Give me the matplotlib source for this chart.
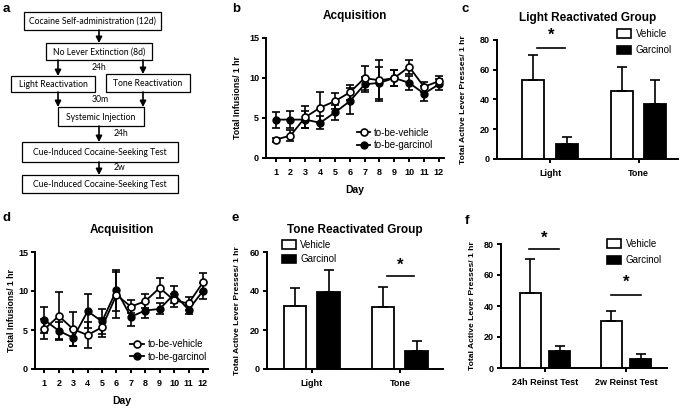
import matplotlib
matplotlib.use('Agg')
import matplotlib.pyplot as plt
from matplotlib.patches import Rectangle, Patch
from matplotlib.lines import Line2D
import numpy as np

plt.rcParams['font.family'] = ['Liberation Sans', 'DejaVu Sans']

# ---- data ----
days = list(range(1, 13))

# panel b: acquisition (light group)
b_vehicle = [2.3, 2.8, 5.1, 6.3, 7.1, 8.2, 10.0, 9.7, 10.0, 11.4, 8.9, 9.6]
b_vehicle_err = [0.25, 0.7, 1.4, 1.9, 1.0, 0.9, 1.5, 2.6, 1.0, 0.9, 0.6, 0.6]
b_garcinol = [4.8, 4.8, 4.8, 4.4, 5.7, 7.1, 9.2, 9.4, 10.0, 9.4, 8.05, 9.2]
b_garcinol_err = [1.0, 1.1, 1.1, 0.8, 0.9, 1.6, 0.9, 2.0, 1.0, 0.9, 0.9, 0.7]

# panel d: acquisition (tone group)
d_vehicle = [5.1, 6.8, 5.1, 4.35, 5.35, 9.5, 8.0, 8.7, 10.4, 8.8, 8.4, 11.1]
d_vehicle_err = [1.3, 3.1, 2.2, 1.7, 1.2, 3.0, 0.8, 0.9, 1.3, 0.8, 0.8, 1.2]
d_garcinol = [6.3, 4.9, 4.0, 7.4, 6.1, 10.1, 6.7, 7.5, 7.7, 9.6, 7.6, 10.0]
d_garcinol_err = [1.7, 1.1, 1.1, 2.2, 1.6, 2.6, 1.2, 1.0, 0.7, 1.1, 0.6, 1.0]

# panel c: light reactivated group
c_groups = ['Light', 'Tone']
c_vehicle = [53, 46]
c_vehicle_err = [17, 16]
c_garcinol = [10, 37]
c_garcinol_err = [4.5, 16]

# panel e: tone reactivated group
e_groups = ['Light', 'Tone']
e_vehicle = [32.5, 32]
e_vehicle_err = [8.8, 10]
e_garcinol = [39.5, 9]
e_garcinol_err = [11.5, 5.5]

# panel f: reinstatement tests
f_groups = ['24h Reinst Test', '2w Reinst Test']
f_vehicle = [48.5, 30.5]
f_vehicle_err = [22, 6.5]
f_garcinol = [11, 5.5]
f_garcinol_err = [3.5, 3.5]

W, H = 685, 408
fig = plt.figure(figsize=(W / 100, H / 100), dpi=100)


def px_axes(left, top, right, bottom):
    return fig.add_axes([left / W, 1 - bottom / H, (right - left) / W, (bottom - top) / H])


def style(ax):
    for s in ['top', 'right']:
        ax.spines[s].set_visible(False)
    for s in ['left', 'bottom']:
        ax.spines[s].set_linewidth(1.4)
    ax.tick_params(width=1.4, length=3, labelsize=6.5, pad=2)
    for lab in ax.get_xticklabels() + ax.get_yticklabels():
        lab.set_fontweight('bold')


def line_panel(ax, veh, veh_err, gar, gar_err, title, leg_x, ylab_x):
    ax.errorbar(days, gar, yerr=gar_err, fmt='-o', color='black', mfc='black',
                ms=5, lw=1.3, elinewidth=1.2, capsize=3, capthick=1.2, zorder=2)
    ax.errorbar(days, veh, yerr=veh_err, fmt='-o', color='black', mfc='white',
                mec='black', mew=1.2, ms=5, lw=1.3, elinewidth=1.2, capsize=3,
                capthick=1.2, zorder=3)
    ax.set_xlim(0.35, 12.35)
    ax.set_ylim(0, 15)
    ax.set_yticks([0, 5, 10, 15])
    ax.set_xticks(days)
    ax.set_xlabel('Day', fontsize=7.5, fontweight='bold', labelpad=6)
    ax.set_ylabel('Total Infusions/ 1 hr', fontsize=6.3, fontweight='bold')
    ax.yaxis.set_label_coords(ylab_x, 0.5)
    ax.set_title(title, fontsize=8.5, fontweight='bold', pad=14)
    style(ax)
    ax.tick_params(axis='x', pad=4)
    handles = [Line2D([], [], color='black', marker='o', mfc='white', mew=1.2, ms=5, lw=1.3),
               Line2D([], [], color='black', marker='o', mfc='black', ms=5, lw=1.3)]
    ax.legend(handles, ['to-be-vehicle', 'to-be-garcinol'], loc='center left',
              bbox_to_anchor=(leg_x, 0.158), frameon=False, fontsize=7,
              handlelength=1.4, handletextpad=0.4, labelspacing=0.25,
              borderpad=0, borderaxespad=0)


def bar_panel(ax, groups, veh, veh_err, gar, gar_err, ylim, yticks, off, bw, xlim,
              title, leg_anchor, leg_space, ylab_x):
    x = np.arange(len(groups))
    ax.bar(x - off, veh, bw, color='white', edgecolor='black', lw=1.3,
           yerr=[[0] * len(veh), veh_err], error_kw=dict(lw=1.2, capsize=3.5, capthick=1.2))
    ax.bar(x + off, gar, bw, color='black', edgecolor='black', lw=1.3,
           yerr=[[0] * len(gar), gar_err], error_kw=dict(lw=1.2, capsize=3.5, capthick=1.2))
    ax.set_xlim(*xlim)
    ax.set_ylim(*ylim)
    ax.set_yticks(yticks)
    ax.set_xticks(x)
    ax.set_xticklabels(groups)
    ax.set_ylabel('Total Active Lever Presses/ 1 hr', fontsize=6.1, fontweight='bold')
    ax.yaxis.set_label_coords(ylab_x, 0.5)
    if title:
        ax.set_title(title, fontsize=8.5, fontweight='bold', pad=14)
    style(ax)
    ax.tick_params(axis='x', pad=4)
    handles = [Patch(facecolor='white', edgecolor='black', lw=1.2),
               Patch(facecolor='black', edgecolor='black', lw=1.2)]
    ax.legend(handles, ['Vehicle', 'Garcinol'], loc='center left',
              bbox_to_anchor=leg_anchor, frameon=False, fontsize=7,
              handlelength=1.4, handleheight=1.0, handletextpad=0.5,
              labelspacing=leg_space, borderpad=0, borderaxespad=0)


def sig(ax, x0, x1, y, ystar):
    ax.plot([x0, x1], [y, y], color='black', lw=1.2, clip_on=False)
    ax.text((x0 + x1) / 2, ystar, '*', ha='center', va='center', fontsize=12,
            fontweight='bold', clip_on=False)


# ---- panel a: flowchart ----
axa = fig.add_axes([0, 0, 1, 1])
axa.set_xlim(0, W)
axa.set_ylim(H, 0)
axa.axis('off')
flow_font = ['Lato', 'DejaVu Sans']
boxes = [
    (24, 12, 161, 30, 'Cocaine Self-administration (12d)'),
    (46, 43, 152, 60, 'No Lever Extinction (8d)'),
    (11, 76, 95, 92, 'Light Reactivation'),
    (106, 74, 190, 92, 'Tone Reactivation'),
    (58, 107, 144, 126, 'Systemic Injection'),
    (22, 142, 178, 162, 'Cue-Induced Cocaine-Seeking Test'),
    (22, 175, 178, 193, 'Cue-Induced Cocaine-Seeking Test'),
]
for x0, y0, x1, y1, txt in boxes:
    axa.add_patch(Rectangle((x0, y0), x1 - x0, y1 - y0, fill=False, ec='black', lw=0.9))
    axa.text((x0 + x1) / 2, (y0 + y1) / 2 + 0.5, txt, ha='center', va='center',
             fontsize=6.2, family=flow_font)
arrows = [(99, 30, 43), (58, 60, 76), (143, 60, 74), (58, 92, 107), (143, 92, 107),
          (99, 126, 142), (99, 162, 175)]
for x, y0, y1 in arrows:
    axa.annotate('', xy=(x, y1), xytext=(x, y0),
                 arrowprops=dict(arrowstyle='-|>,head_length=0.35,head_width=0.18',
                                 color='black', lw=1.2, shrinkA=0, shrinkB=0))
for x, y, txt in [(99, 68, '24h'), (100, 100, '30m'), (114, 133, '24h'), (114, 168, '2w')]:
    axa.text(x, y, txt, ha='left' if x > 105 else 'center', va='center', fontsize=6.2,
             family=flow_font)
for x, y, lab in [(3, 9, 'a'), (232, 9, 'b'), (462, 9, 'c'), (3, 218, 'd'),
                  (232, 218, 'e'), (465, 221, 'f')]:
    axa.text(x, y, lab, ha='left', va='center', fontsize=9.5, fontweight='bold')

# ---- panel b ----
axb = px_axes(266, 38, 444, 158)
line_panel(axb, b_vehicle, b_vehicle_err, b_garcinol, b_garcinol_err, 'Acquisition', 0.51, -0.135)

# ---- panel d ----
axd = px_axes(35, 252, 208, 369)
line_panel(axd, d_vehicle, d_vehicle_err, d_garcinol, d_garcinol_err, 'Acquisition', 0.55, -0.11)

# ---- panel c ----
axc = px_axes(497, 40, 678, 159)
bar_panel(axc, c_groups, c_vehicle, c_vehicle_err, c_garcinol, c_garcinol_err,
          (0, 80), [0, 20, 40, 60, 80], 0.19, 0.25, (-0.6, 1.446),
          'Light Reactivated Group', (0.663, 0.983), 0.65, -0.166)
sig(axc, -0.15, 0.17, 74.6, 83)

# ---- panel e ----
axe = px_axes(267, 252, 443, 369)
bar_panel(axe, e_groups, e_vehicle, e_vehicle_err, e_garcinol, e_garcinol_err,
          (0, 60), [0, 20, 40, 60], 0.19, 0.256, (-0.51, 1.49),
          'Tone Reactivated Group', (0.085, 1.0), 0.45, -0.148)
sig(axe, 0.85, 1.16, 47.7, 53)

# ---- panel f ----
axf = px_axes(501, 244, 667, 368)
bar_panel(axf, f_groups, f_vehicle, f_vehicle_err, f_garcinol, f_garcinol_err,
          (0, 80), [0, 20, 40, 60, 80], 0.18, 0.265, (-0.543, 1.506),
          None, (0.64, 0.935), 0.65, -0.15)
sig(axf, -0.2, 0.17, 76.8, 84)
sig(axf, 0.81, 1.19, 47, 55)

fig.savefig('out.png', dpi=100)
